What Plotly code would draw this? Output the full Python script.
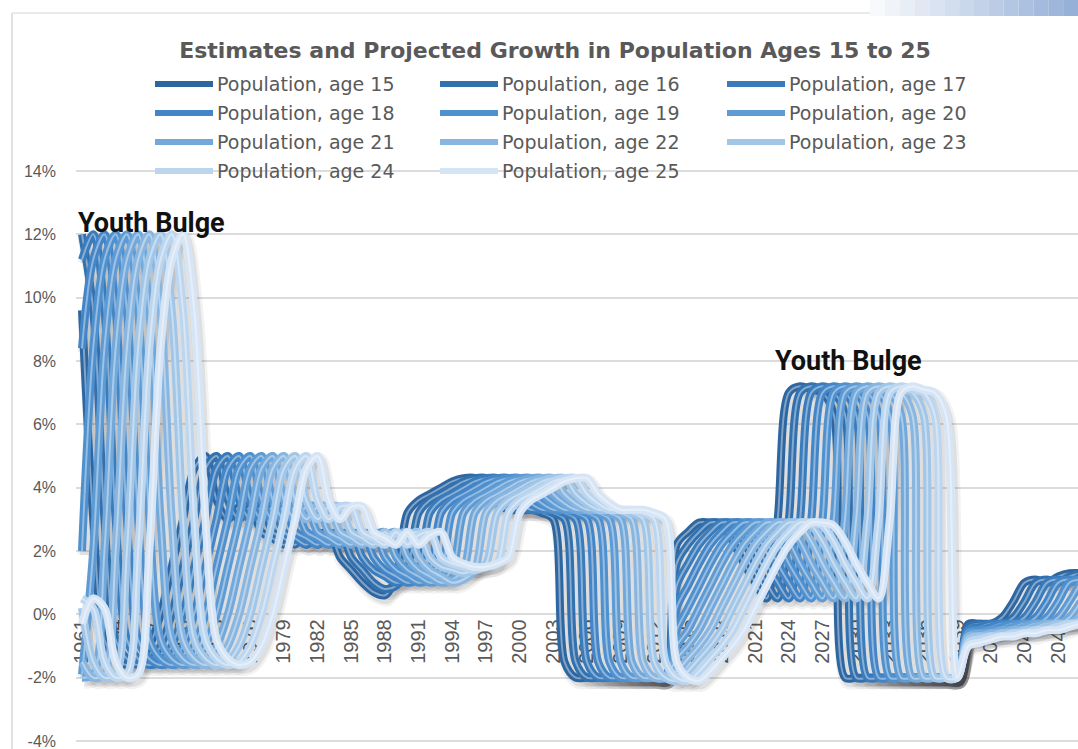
import plotly.graph_objects as go

# ---- data: annual growth (%) of the single-year population, 1961-2050 ----
years = list(range(1961, 2051))

pop_15 = [
    9.6, 3.0, -0.8, -1.4, -1.6, -1.5, -1.0, 0.0, 1.5, 3.0,
    4.6, 5.0, 3.6, 3.0, 3.4, 3.4, 2.6, 2.4, 2.2, 2.6,
    2.2, 2.5, 2.6, 1.8, 1.4, 1.0, 0.7, 0.6, 1.2, 3.2,
    3.6, 3.8, 4.0, 4.2, 4.3, 4.3, 3.8, 3.5, 3.3, 3.3,
    3.3, 3.2, 3.0, -1.5, -2.0, -2.0, -2.0, -2.0, -2.0, -2.0,
    -2.0, -2.0, -2.0, 2.2, 2.6, 2.9, 2.9, 2.8, 2.3, 1.6,
    1.0, 0.5, 3.0, 7.0, 7.2, 7.1, 7.0, 6.3, -2.0, -2.0,
    -2.0, -2.0, -2.0, -2.0, -2.0, -2.0, -2.0, -2.0, -2.0, -0.3,
    -0.3, -0.3, -0.1, 0.4, 1.0, 1.1, 1.0, 1.2, 1.3, 1.3,
]
pop_16 = [
    12.0, 9.6, 3.0, -0.8, -1.4, -1.6, -1.5, -1.0, 0.0, 1.5,
    3.0, 4.6, 5.0, 3.6, 3.0, 3.4, 3.4, 2.6, 2.4, 2.2,
    2.6, 2.2, 2.5, 2.6, 1.8, 1.4, 1.0, 0.8, 0.9, 1.4,
    3.2, 3.6, 3.8, 4.0, 4.2, 4.3, 4.3, 3.8, 3.5, 3.3,
    3.3, 3.3, 3.2, 3.0, -1.5, -2.0, -2.0, -2.0, -2.0, -2.0,
    -2.0, -2.0, -2.0, 1.6, 2.2, 2.6, 2.9, 2.9, 2.8, 2.3,
    1.6, 1.0, 0.5, 3.0, 7.0, 7.2, 7.1, 7.0, 6.3, -2.0,
    -2.0, -2.0, -2.0, -2.0, -2.0, -2.0, -2.0, -2.0, -2.0, -0.4,
    -0.3, -0.3, -0.3, -0.1, 0.4, 1.0, 1.1, 1.0, 1.2, 1.3,
]
pop_17 = [
    11.2, 12.0, 9.6, 3.0, -0.8, -1.4, -1.6, -1.5, -1.0, 0.0,
    1.5, 3.0, 4.6, 5.0, 3.6, 3.0, 3.4, 3.4, 2.6, 2.4,
    2.2, 2.6, 2.2, 2.5, 2.6, 1.8, 1.4, 1.2, 1.0, 1.1,
    1.4, 3.2, 3.6, 3.8, 4.0, 4.2, 4.3, 4.3, 3.8, 3.5,
    3.3, 3.3, 3.3, 3.2, 3.0, -1.5, -2.0, -2.0, -2.0, -2.0,
    -2.0, -2.0, -2.0, 0.9, 1.6, 2.2, 2.6, 2.9, 2.9, 2.8,
    2.3, 1.6, 1.0, 0.5, 3.0, 7.0, 7.2, 7.1, 7.0, 6.3,
    -2.0, -2.0, -2.0, -2.0, -2.0, -2.0, -2.0, -2.0, -2.0, -0.5,
    -0.4, -0.3, -0.3, -0.3, -0.1, 0.4, 1.0, 1.1, 1.0, 1.2,
]
pop_18 = [
    8.4, 11.2, 12.0, 9.6, 3.0, -0.8, -1.4, -1.6, -1.5, -1.0,
    0.0, 1.5, 3.0, 4.6, 5.0, 3.6, 3.0, 3.4, 3.4, 2.6,
    2.4, 2.2, 2.6, 2.2, 2.5, 2.6, 1.8, 1.4, 1.2, 1.0,
    1.1, 1.4, 3.2, 3.6, 3.8, 4.0, 4.2, 4.3, 4.3, 3.8,
    3.5, 3.3, 3.3, 3.3, 3.2, 3.0, -1.5, -2.0, -2.0, -2.0,
    -2.0, -2.0, -2.0, 0.2, 0.9, 1.6, 2.2, 2.6, 2.9, 2.9,
    2.8, 2.3, 1.6, 1.0, 0.5, 3.0, 7.0, 7.2, 7.1, 7.0,
    6.3, -2.0, -2.0, -2.0, -2.0, -2.0, -2.0, -2.0, -2.0, -0.5,
    -0.5, -0.4, -0.3, -0.3, -0.3, -0.1, 0.4, 1.0, 1.1, 1.0,
]
pop_19 = [
    2.0, 8.4, 11.2, 12.0, 9.6, 3.0, -0.8, -1.4, -1.6, -1.5,
    -1.0, 0.0, 1.5, 3.0, 4.6, 5.0, 3.6, 3.0, 3.4, 3.4,
    2.6, 2.4, 2.2, 2.6, 2.2, 2.5, 2.6, 1.8, 1.4, 1.2,
    1.0, 1.1, 1.4, 3.2, 3.6, 3.8, 4.0, 4.2, 4.3, 4.3,
    3.8, 3.5, 3.3, 3.3, 3.3, 3.2, 3.0, -1.5, -2.0, -2.0,
    -2.0, -2.0, -2.0, -0.5, 0.2, 0.9, 1.6, 2.2, 2.6, 2.9,
    2.9, 2.8, 2.3, 1.6, 1.0, 0.5, 3.0, 7.0, 7.2, 7.1,
    7.0, 6.3, -2.0, -2.0, -2.0, -2.0, -2.0, -2.0, -2.0, -0.6,
    -0.5, -0.5, -0.4, -0.3, -0.3, -0.3, -0.1, 0.4, 1.0, 1.1,
]
pop_20 = [
    -1.9, 2.0, 8.4, 11.2, 12.0, 9.6, 3.0, -0.8, -1.4, -1.6,
    -1.5, -1.0, 0.0, 1.5, 3.0, 4.6, 5.0, 3.6, 3.0, 3.4,
    3.4, 2.6, 2.4, 2.2, 2.6, 2.2, 2.5, 2.6, 1.8, 1.4,
    1.2, 1.0, 1.1, 1.4, 3.2, 3.6, 3.8, 4.0, 4.2, 4.3,
    4.3, 3.8, 3.5, 3.3, 3.3, 3.3, 3.2, 3.0, -1.5, -2.0,
    -2.0, -2.0, -2.0, -1.0, -0.5, 0.2, 0.9, 1.6, 2.2, 2.6,
    2.9, 2.9, 2.8, 2.3, 1.6, 1.0, 0.5, 3.0, 7.0, 7.2,
    7.1, 7.0, 6.3, -2.0, -2.0, -2.0, -2.0, -2.0, -2.0, -0.6,
    -0.6, -0.5, -0.5, -0.4, -0.3, -0.3, -0.3, -0.1, 0.4, 1.0,
]
pop_21 = [
    -2.0, -1.9, 2.0, 8.4, 11.2, 12.0, 9.6, 3.0, -0.8, -1.4,
    -1.6, -1.5, -1.0, 0.0, 1.5, 3.0, 4.6, 5.0, 3.6, 3.0,
    3.4, 3.4, 2.6, 2.4, 2.2, 2.6, 2.2, 2.5, 2.6, 1.8,
    1.4, 1.2, 1.0, 1.1, 1.4, 3.2, 3.6, 3.8, 4.0, 4.2,
    4.3, 4.3, 3.8, 3.5, 3.3, 3.3, 3.3, 3.2, 3.0, -1.5,
    -2.0, -2.0, -2.0, -1.4, -1.0, -0.5, 0.2, 0.9, 1.6, 2.2,
    2.6, 2.9, 2.9, 2.8, 2.3, 1.6, 1.0, 0.5, 3.0, 7.0,
    7.2, 7.1, 7.0, 6.3, -2.0, -2.0, -2.0, -2.0, -2.0, -0.7,
    -0.6, -0.6, -0.5, -0.5, -0.4, -0.3, -0.3, -0.3, -0.1, 0.4,
]
pop_22 = [
    -1.5, -2.0, -1.9, 2.0, 8.4, 11.2, 12.0, 9.6, 3.0, -0.8,
    -1.4, -1.6, -1.5, -1.0, 0.0, 1.5, 3.0, 4.6, 5.0, 3.6,
    3.0, 3.4, 3.4, 2.6, 2.4, 2.2, 2.6, 2.2, 2.5, 2.6,
    1.8, 1.4, 1.2, 1.0, 1.1, 1.4, 3.2, 3.6, 3.8, 4.0,
    4.2, 4.3, 4.3, 3.8, 3.5, 3.3, 3.3, 3.3, 3.2, 3.0,
    -1.5, -2.0, -2.0, -1.8, -1.4, -1.0, -0.5, 0.2, 0.9, 1.6,
    2.2, 2.6, 2.9, 2.9, 2.8, 2.3, 1.6, 1.0, 0.5, 3.0,
    7.0, 7.2, 7.1, 7.0, 6.3, -2.0, -2.0, -2.0, -2.0, -0.7,
    -0.7, -0.6, -0.6, -0.5, -0.5, -0.4, -0.3, -0.3, -0.3, -0.1,
]
pop_23 = [
    0.2, -1.5, -2.0, -1.9, 2.0, 8.4, 11.2, 12.0, 9.6, 3.0,
    -0.8, -1.4, -1.6, -1.5, -1.0, 0.0, 1.5, 3.0, 4.6, 5.0,
    3.6, 3.0, 3.4, 3.4, 2.6, 2.4, 2.2, 2.6, 2.2, 2.5,
    2.6, 1.8, 1.5, 1.4, 1.3, 1.4, 1.6, 3.2, 3.6, 3.8,
    4.0, 4.2, 4.3, 4.3, 3.8, 3.5, 3.3, 3.3, 3.3, 3.2,
    3.0, -1.5, -2.0, -2.1, -1.8, -1.4, -1.0, -0.5, 0.2, 0.9,
    1.6, 2.2, 2.6, 2.9, 2.9, 2.8, 2.3, 1.6, 1.0, 0.5,
    3.0, 7.0, 7.2, 7.1, 7.0, 6.3, -2.0, -2.0, -2.0, -0.8,
    -0.7, -0.7, -0.6, -0.6, -0.5, -0.5, -0.4, -0.3, -0.3, -0.3,
]
pop_24 = [
    0.5, 0.2, -1.5, -2.0, -1.9, 2.0, 8.4, 11.2, 12.0, 9.6,
    3.0, -0.8, -1.4, -1.6, -1.5, -1.0, 0.0, 1.5, 3.0, 4.6,
    5.0, 3.6, 3.0, 3.4, 3.4, 2.6, 2.4, 2.2, 2.6, 2.2,
    2.5, 2.6, 1.8, 1.6, 1.5, 1.4, 1.5, 1.6, 3.2, 3.6,
    3.8, 4.0, 4.2, 4.3, 4.3, 3.8, 3.5, 3.3, 3.3, 3.3,
    3.2, 3.0, -1.5, -2.0, -2.1, -1.8, -1.4, -1.0, -0.5, 0.2,
    0.9, 1.6, 2.2, 2.6, 2.9, 2.9, 2.8, 2.3, 1.6, 1.0,
    0.5, 3.0, 7.0, 7.2, 7.1, 7.0, 6.3, -2.0, -2.0, -0.9,
    -0.8, -0.7, -0.7, -0.6, -0.6, -0.5, -0.5, -0.4, -0.3, -0.3,
]
pop_25 = [
    -0.3, 0.5, 0.2, -1.5, -2.0, -1.9, 2.0, 8.4, 11.2, 12.0,
    9.6, 3.0, -0.8, -1.4, -1.6, -1.5, -1.0, 0.0, 1.5, 3.0,
    4.6, 5.0, 3.6, 3.0, 3.4, 3.4, 2.6, 2.4, 2.2, 2.6,
    2.2, 2.5, 2.6, 1.8, 1.6, 1.5, 1.5, 1.6, 1.8, 3.2,
    3.6, 3.8, 4.0, 4.2, 4.3, 4.3, 3.8, 3.5, 3.3, 3.3,
    3.3, 3.2, 3.0, -1.5, -2.0, -2.1, -1.8, -1.4, -1.0, -0.5,
    0.2, 0.9, 1.6, 2.2, 2.6, 2.9, 2.9, 2.8, 2.3, 1.6,
    1.0, 0.5, 3.0, 7.0, 7.2, 7.1, 7.0, 6.3, -2.0, -1.0,
    -0.9, -0.8, -0.7, -0.7, -0.6, -0.6, -0.5, -0.5, -0.4, -0.3,
]

ages = list(range(15, 26))
series = [pop_15, pop_16, pop_17, pop_18, pop_19, pop_20,
          pop_21, pop_22, pop_23, pop_24, pop_25]

tick_years = years[::3]
tick_text = [str(y) for y in tick_years]
y_ticks = [-4, -2, 0, 2, 4, 6, 8, 10, 12, 14]
y_tick_text = [f"{v}%" for v in y_ticks]

colors = ["#2d66a1", "#3270ae", "#397bbb", "#4385c6", "#4f90ce", "#5e9bd4",
          "#72a8da", "#88b6e0", "#a1c6e7", "#bcd6ef", "#d6e5f5"]

# ---- geometry ---------------------------------------------------------
W, H = 1078, 749
Y_MIN, Y_MAX = -4, 14
PX_PER_UNIT = 570 / (Y_MAX - Y_MIN)
EDGE_PX = 3                       # keeps the end gridlines inside the plot area
EDGE = EDGE_PX / PX_PER_UNIT
L, R, T, B = 76, 0, 171 - EDGE_PX, 749 - 741 - EDGE_PX
PW, PH = W - L - R, H - T - B
X0 = 1960.465
PX_PER_YEAR = 11.22
GREY = "#595959"


def px_x(px):
    return (px - L) / PW


def px_y(py):
    return (H - B - py) / PH


def lighten(hex_color, f):
    r, g, b = (int(hex_color[i:i + 2], 16) for i in (1, 3, 5))
    r, g, b = (round(c + (255 - c) * f) for c in (r, g, b))
    return f"rgb({r},{g},{b})"


SHADOW_DX = 2.5 / PX_PER_YEAR
SHADOW_DY = 4.0 / PX_PER_UNIT
LINE = dict(shape="spline", smoothing=0.9)

fig = go.Figure()

# soft drop shadows under every series
for vals in series:
    sx = [y + SHADOW_DX for y in years]
    sy = [v - SHADOW_DY for v in vals]
    for width, alpha in ((14, 0.06), (9, 0.09)):
        fig.add_trace(go.Scatter(
            x=sx, y=sy, mode="lines", hoverinfo="skip", showlegend=False,
            line=dict(color=f"rgba(30,30,40,{alpha})", width=width, **LINE)))

# bevelled lines, oldest age drawn last (on top)
for a, vals, c in zip(ages, series, colors):
    fig.add_trace(go.Scatter(
        x=years, y=vals, mode="lines", name=f"Population, age {a}",
        showlegend=False, line=dict(color=c, width=8, **LINE)))
    fig.add_trace(go.Scatter(
        x=years, y=vals, mode="lines", hoverinfo="skip", showlegend=False,
        line=dict(color=lighten(c, 0.40), width=2.0, **LINE)))

# ---- legend (3 columns x 4 rows) ----------------------------------------
legend_rows = [84, 113, 142, 171]
legend_cols = [155, 440, 727]
shapes = []
annotations = []
for i, (a, c) in enumerate(zip(ages, colors)):
    row, col = divmod(i, 3)
    ly = px_y(legend_rows[row])
    lx = legend_cols[col]
    shapes.append(dict(type="line", xref="paper", yref="paper",
                       x0=px_x(lx), x1=px_x(lx + 58), y0=ly, y1=ly,
                       line=dict(color=c, width=6)))
    annotations.append(dict(xref="paper", yref="paper", x=px_x(lx + 60), y=ly,
                            xanchor="left", yanchor="middle", showarrow=False,
                            text=f"Population, age {a}",
                            font=dict(family="DejaVu Sans", size=19, color=GREY)))

# "Youth Bulge" callouts
for x, y in ((1967.2, 12.35), (2029.3, 8.0)):
    annotations.append(dict(x=x, y=y, xref="x", yref="y", showarrow=False,
                            text="Youth Bulge", xanchor="center", yanchor="middle",
                            font=dict(family="Roboto", size=27,
                                      color="#111111", weight=700)))

# chart-area border
shapes.append(dict(type="line", xref="paper", yref="paper",
                   x0=px_x(12), x1=px_x(12), y0=px_y(H), y1=px_y(13),
                   line=dict(color="#d9d9d9", width=1.5)))
shapes.append(dict(type="line", xref="paper", yref="paper",
                   x0=px_x(12), x1=px_x(W), y0=px_y(13), y1=px_y(13),
                   line=dict(color="#e3e3e3", width=1.5)))

# slide header band fading in at the top right
steps = 14
for k in range(steps):
    f = (k + 1) / steps
    x_a = 870 + k * (W - 870) / steps
    x_b = 870 + (k + 1) * (W - 870) / steps
    r = round(255 - (255 - 150) * f)
    g = round(255 - (255 - 176) * f)
    b = round(255 - (255 - 215) * f)
    shapes.append(dict(type="rect", xref="paper", yref="paper",
                       x0=px_x(x_a), x1=px_x(x_b), y0=px_y(16), y1=px_y(0),
                       line=dict(width=0), fillcolor=f"rgb({r},{g},{b})"))

fig.update_layout(
    width=W, height=H, autosize=False,
    margin=dict(l=L, r=R, t=T, b=B, pad=0),
    paper_bgcolor="white", plot_bgcolor="white",
    title=dict(text="Estimates and Projected Growth in Population Ages 15 to 25",
               x=555 / W, xanchor="center", y=1 - 50 / H, yanchor="middle",
               font=dict(family="DejaVu Sans", size=22, color=GREY, weight=700)),
    shapes=shapes, annotations=annotations, showlegend=False,
    xaxis=dict(range=[X0, X0 + PW / PX_PER_YEAR], tickmode="array",
               tickvals=tick_years, ticktext=tick_text, tickangle=-90,
               anchor="free",
               position=(0 - (Y_MIN - EDGE)) / (Y_MAX - Y_MIN + 2 * EDGE),
               showgrid=False, zeroline=False, showline=False, ticks="",
               layer="below traces",
               tickfont=dict(family="Liberation Sans", size=20, color=GREY)),
    yaxis=dict(range=[Y_MIN - EDGE, Y_MAX + EDGE], tickmode="array",
               tickvals=y_ticks, ticktext=y_tick_text, showgrid=True,
               gridcolor="#dcdcdc", gridwidth=1.5, zeroline=False,
               showline=False, ticks="", ticklabelstandoff=19,
               ticklabeloverflow="allow",
               tickfont=dict(family="Liberation Sans", size=16, color=GREY)),
)

fig.write_html("out.html")
